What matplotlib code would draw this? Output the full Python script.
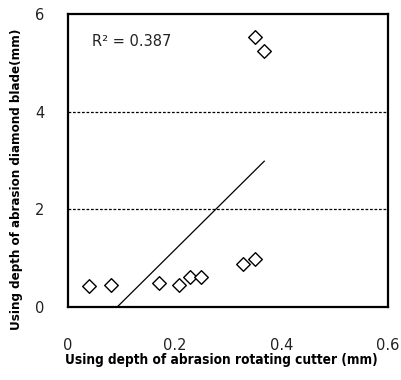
import numpy as np
import matplotlib
matplotlib.use("Agg")
import matplotlib.pyplot as plt

# Abrasion depth measurements
rotating_cutter = [0.040, 0.080, 0.171, 0.209, 0.228, 0.249, 0.329, 0.350, 0.350, 0.368]
diamond_blade = [0.43, 0.46, 0.49, 0.45, 0.62, 0.62, 0.89, 0.99, 5.52, 5.25]
r_squared_label = "R² = 0.387"
x_ticks = [0, 0.2, 0.4, 0.6]
y_ticks = [0, 2, 4, 6]

plt.rcParams['font.family'] = ['DejaVu Sans']

fig = plt.figure(figsize=(4.01, 3.80), dpi=100)
ax = fig.add_axes([0.1696, 0.1921, 0.798, 0.7711])

ax.scatter(rotating_cutter, diamond_blade, marker='D', s=48, facecolors='white',
           edgecolors='black', linewidths=1.0, zorder=3)

# Linear trend line over the data range
slope, intercept = np.polyfit(rotating_cutter, diamond_blade, 1)
xs = np.array([min(rotating_cutter), max(rotating_cutter)])
ax.plot(xs, slope * xs + intercept, color='black', linewidth=0.9, zorder=2)

ax.set_xlim(0, 0.6)
ax.set_ylim(0, 6)
ax.set_xticks(x_ticks)
ax.set_xticklabels(['0', '0.2', '0.4', '0.6'])
ax.set_yticks(y_ticks)
ax.set_yticklabels(['0', '2', '4', '6'])
ax.tick_params(axis='both', length=0, labelsize=10.5, colors='#222222')
ax.tick_params(axis='x', pad=22)
ax.tick_params(axis='y', pad=17)

for y in [2, 4]:
    ax.axhline(y, color='black', linestyle=(0, (2.2, 1.4)), linewidth=0.9, zorder=1)

for sp in ax.spines.values():
    sp.set_linewidth(1.6)

ax.text(0.075, 0.905, r_squared_label, transform=ax.transAxes, fontsize=10.5,
        va='center', ha='left', color='#222222')

ax.set_xlabel('Using depth of abrasion rotating cutter (mm)', fontsize=9.8,
              fontweight='bold', fontstretch='condensed')
ax.set_ylabel('Using depth of abrasion diamond blade(mm)', fontsize=9.5,
              fontweight='bold', fontstretch='condensed')
ax.xaxis.set_label_coords(0.48, -0.18)
ax.yaxis.set_label_coords(-0.16, 0.437)
ax.xaxis.label.set_va('center')
ax.yaxis.label.set_va('center')

fig.savefig('out.png', dpi=100)
